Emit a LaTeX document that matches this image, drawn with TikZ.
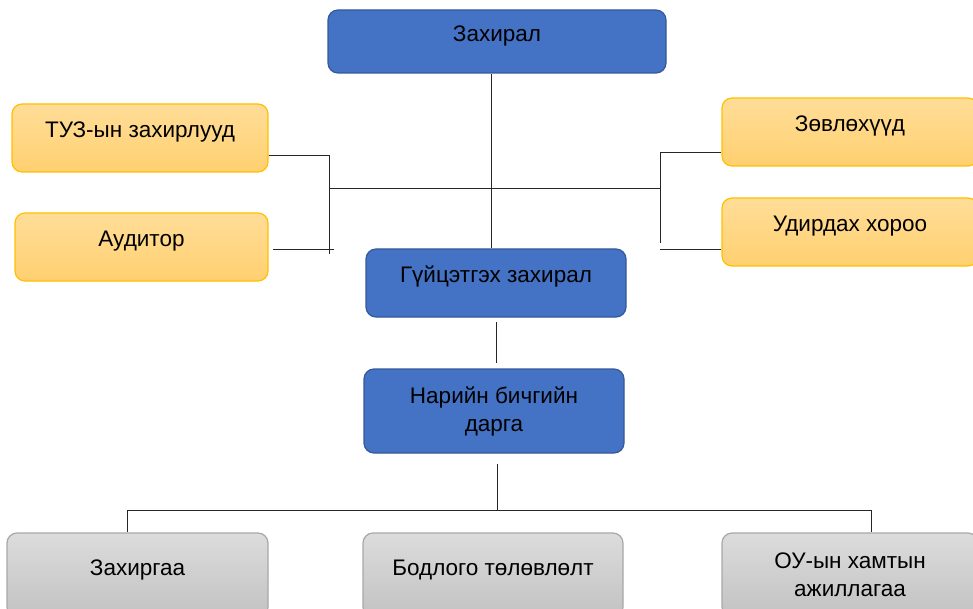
\documentclass[tikz,border=0pt]{standalone}
\usepackage{fontspec}
\setmainfont{Liberation Sans}
\definecolor{headfill}{HTML}{4472C4}
\definecolor{headline}{HTML}{35599A}
\definecolor{sidetop}{HTML}{FFDD98}
\definecolor{sidebot}{HTML}{FFD070}
\definecolor{sideline}{HTML}{FFC000}
\definecolor{unittop}{HTML}{DCDCDC}
\definecolor{unitbot}{HTML}{C2C2C2}
\definecolor{unitline}{HTML}{A8A8A8}
\begin{document}
\begin{tikzpicture}[x=1pt,y=-1pt,
    box/.style={draw,rounded corners=10pt,line width=1.2pt,align=center,inner sep=0pt,
        font=\fontsize{22.5}{28}\selectfont},
    headbox/.style={box,fill=headfill,draw=headline},
    sidebox/.style={box,top color=sidetop,bottom color=sidebot,draw=sideline},
    unitbox/.style={box,top color=unittop,bottom color=unitbot,draw=unitline},
    oneline/.style={text height=12pt,text depth=12pt},
    link/.style={line width=1pt,black!85}]
        % the page
        \useasboundingbox (0,0) rectangle (973,609);
        \clip (0,0) rectangle (973,609);

        % the director on top
        \node[headbox,oneline,minimum width=338,minimum height=63] (director) at (497,41.5) {Захирал};
        % the board and the auditor on the left
        \node[sidebox,oneline,minimum width=256,minimum height=68] (board) at (140,138) {ТУЗ-ын захирлууд};
        \node[sidebox,oneline,minimum width=253,minimum height=68] (auditor) at (141.5,247) {Аудитор};
        % the advisors and the committee on the right
        \node[sidebox,oneline,minimum width=256,minimum height=68] (advisors) at (850,132) {Зөвлөхүүд};
        \node[sidebox,oneline,minimum width=256,minimum height=68] (committee) at (850,232) {Удирдах хороо};
        % the executive and the secretary
        \node[headbox,oneline,minimum width=260,minimum height=68] (ceo) at (496,283) {Гүйцэтгэх захирал};
        \node[headbox,minimum width=260,minimum height=84] (secretary) at (494,411) {Нарийн бичгийн\\дарга};
        % the three units at the bottom
        \node[unitbox,oneline,minimum width=261,minimum height=84] (admin) at (137.5,575) {Захиргаа};
        \node[unitbox,oneline,minimum width=260,minimum height=84] (policy) at (493,575) {Бодлого төлөвлөлт};
        \node[unitbox,minimum width=256,minimum height=84] (intl) at (850,575) {ОУ-ын хамтын\\ажиллагаа};

        % director down to the executive
        \draw[link] ([xshift=-6pt]director.south) -- ([xshift=-5pt]ceo.north);
        % the cross bar
        \coordinate (hub-left) at (329,189);
        \coordinate (hub-right) at (660,189);
        \draw[link] (hub-left) -- (hub-right);
        % left bracket
        \coordinate (left-end) at (329,254);
        \draw[link] ([yshift=-18pt]board.east) -| (left-end);
        \draw[link] ([shift={(4pt,-3pt)}]auditor.east) -- ++(61,0);
        % right bracket
        \coordinate (right-end) at (660,243);
        \draw[link] ([yshift=-21pt]advisors.west) -| (right-end);
        \draw[link] ([yshift=-18pt]committee.west) -- ++(-61,0);

        % executive down to the secretary
        \draw[link] ([yshift=-4pt]ceo.south) -- ([shift={(2pt,5pt)}]secretary.north);
        % the bus to the units
        \coordinate (bus) at (497,510);
        \coordinate (bus-left) at (127,510);
        \coordinate (bus-right) at (871,510);
        \draw[link] ([shift={(3pt,-10pt)}]secretary.south) -- (bus);
        \draw[link] (bus-left |- admin.north) -- (bus-left) -- (bus-right) -- (bus-right |- intl.north);
    \end{tikzpicture}
\end{document}
